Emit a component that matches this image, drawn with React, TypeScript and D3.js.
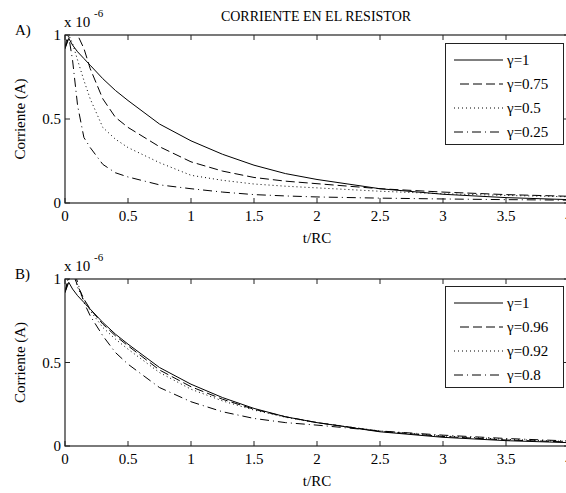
import React from "react";
import * as d3 from "d3";

// t/RC sample points
const tVals = [0, 0.03, 0.06, 0.1, 0.15, 0.2, 0.3, 0.4, 0.5, 0.75, 1, 1.25, 1.5, 1.75, 2, 2.5, 3, 3.5, 4];

// panel A (values in units of 1e-6 A)
const aGamma1 = [0.92, 0.98, 0.94, 0.9, 0.86, 0.82, 0.74, 0.67, 0.61, 0.47, 0.37, 0.29, 0.225, 0.175, 0.14, 0.085, 0.052, 0.032, 0.02];
const aGamma075 = [0.92, 1.05, 1.1, 1.0, 0.92, 0.8, 0.62, 0.51, 0.45, 0.335, 0.245, 0.19, 0.152, 0.13, 0.115, 0.085, 0.065, 0.05, 0.04];
const aGamma05 = [0.92, 1.0, 0.95, 0.85, 0.73, 0.62, 0.45, 0.38, 0.33, 0.24, 0.165, 0.135, 0.113, 0.1, 0.09, 0.07, 0.055, 0.045, 0.037];
const aGamma025 = [0.92, 0.99, 0.85, 0.58, 0.39, 0.33, 0.23, 0.18, 0.155, 0.108, 0.085, 0.065, 0.05, 0.042, 0.036, 0.029, 0.024, 0.02, 0.017];

// panel B
const bGamma1 = [0.92, 0.98, 0.94, 0.9, 0.86, 0.82, 0.74, 0.67, 0.61, 0.47, 0.37, 0.29, 0.225, 0.175, 0.14, 0.085, 0.052, 0.032, 0.02];
const bGamma096 = [0.92, 1.0, 1.04, 0.96, 0.88, 0.82, 0.73, 0.66, 0.6, 0.455, 0.355, 0.28, 0.22, 0.175, 0.14, 0.088, 0.057, 0.036, 0.024];
const bGamma092 = [0.92, 1.02, 1.06, 0.95, 0.87, 0.81, 0.71, 0.64, 0.58, 0.44, 0.34, 0.27, 0.215, 0.172, 0.14, 0.09, 0.06, 0.04, 0.027];
const bGamma08 = [0.92, 1.02, 1.08, 0.98, 0.86, 0.78, 0.66, 0.56, 0.49, 0.35, 0.265, 0.205, 0.165, 0.14, 0.125, 0.09, 0.065, 0.045, 0.03];

const xTicks = [0, 0.5, 1, 1.5, 2, 2.5, 3, 3.5, 4];
const yTicks = [0, 0.5, 1];
const labelsA = ["γ=1", "γ=0.75", "γ=0.5", "γ=0.25"];
const labelsB = ["γ=1", "γ=0.96", "γ=0.92", "γ=0.8"];

const dashes = [null, "9,4", "1,3", "9,4,1,4"];
const FONT = "Liberation Serif, DejaVu Serif, serif";

type PanelProps = {
  id: string;
  top: number;
  bottom: number;
  letter: string;
  series: number[][];
  labels: string[];
  legendTop: number;
};

function Panel({ id, top, bottom, letter, series, labels, legendTop }: PanelProps) {
  const x = d3.scaleLinear().domain([0, 4]).range([65, 569]);
  const y = d3.scaleLinear().domain([0, 1]).range([bottom, top]);
  const line = d3
    .line<number>()
    .x((d, i) => x(tVals[i]))
    .y((d) => y(d));

  return (
    <g>
      <defs>
        <clipPath id={"clip-" + id}>
          <rect x={x(0)} y={y(1)} width={x(4) - x(0)} height={y(0) - y(1)} />
        </clipPath>
      </defs>
      <g clipPath={"url(#clip-" + id + ")"}>
        {series.map((s, i) => (
          <path
            key={i}
            d={line(s) || ""}
            fill="none"
            stroke="#000"
            strokeWidth={1}
            strokeDasharray={dashes[i] || undefined}
          />
        ))}
      </g>
      {/* axes box */}
      <rect
        x={x(0)}
        y={y(1)}
        width={x(4) - x(0)}
        height={y(0) - y(1)}
        fill="none"
        stroke="#222"
        strokeWidth={1.2}
      />
      {xTicks.map((t) => (
        <g key={"x" + t}>
          <line x1={x(t)} x2={x(t)} y1={y(0)} y2={y(0) - 5} stroke="#222" />
          <line x1={x(t)} x2={x(t)} y1={y(1)} y2={y(1) + 5} stroke="#222" />
          <text x={x(t)} y={y(0) + 18} textAnchor="middle" fontSize={15}>
            {t}
          </text>
        </g>
      ))}
      {yTicks.map((t) => (
        <g key={"y" + t}>
          <line x1={x(0)} x2={x(0) + 5} y1={y(t)} y2={y(t)} stroke="#222" />
          <line x1={x(4)} x2={x(4) - 5} y1={y(t)} y2={y(t)} stroke="#222" />
          <text x={x(0) - 4} y={y(t) + 5} textAnchor="end" fontSize={15}>
            {t}
          </text>
        </g>
      ))}
      <text x={x(2)} y={y(0) + 40} textAnchor="middle" fontSize={15}>
        t/RC
      </text>
      <text
        transform={`translate(25,${(y(0) + y(1)) / 2}) rotate(-90)`}
        textAnchor="middle"
        fontSize={15}
      >
        Corriente (A)
      </text>
      <text x={15} y={y(1)} fontSize={15}>
        {letter}
      </text>
      <text x={64} y={y(1) - 8} fontSize={15}>
        x 10
      </text>
      <text x={94} y={y(1) - 18} fontSize={11}>
        -6
      </text>
      {/* legend */}
      <rect x={445.5} y={legendTop + 0.5} width={118} height={101} fill="#fff" stroke="#222" />
      {labels.map((lab, i) => {
        const ly = legendTop + 17 + i * 24;
        return (
          <g key={lab}>
            <line
              x1={i === 1 ? 460 : 454}
              x2={503}
              y1={ly}
              y2={ly}
              stroke="#000"
              strokeDasharray={dashes[i] || undefined}
            />
            <text x={507} y={ly + 5} fontSize={15}>
              {lab}
            </text>
          </g>
        );
      })}
    </g>
  );
}

export default function App() {
  return (
    <svg
      width={566}
      height={493}
      style={{ position: "absolute", left: 0, top: 0, background: "#fff", fontFamily: FONT }}
    >
      <rect width={566} height={493} fill="#fff" />
      <text x={316} y={21} textAnchor="middle" fontSize={14}>
        CORRIENTE EN EL RESISTOR
      </text>
      <Panel
        id="a"
        top={35}
        bottom={203}
        letter="A)"
        series={[aGamma1, aGamma075, aGamma05, aGamma025]}
        labels={labelsA}
        legendTop={43}
      />
      <Panel
        id="b"
        top={279}
        bottom={446}
        letter="B)"
        series={[bGamma1, bGamma096, bGamma092, bGamma08]}
        labels={labelsB}
        legendTop={286}
      />
    </svg>
  );
}
